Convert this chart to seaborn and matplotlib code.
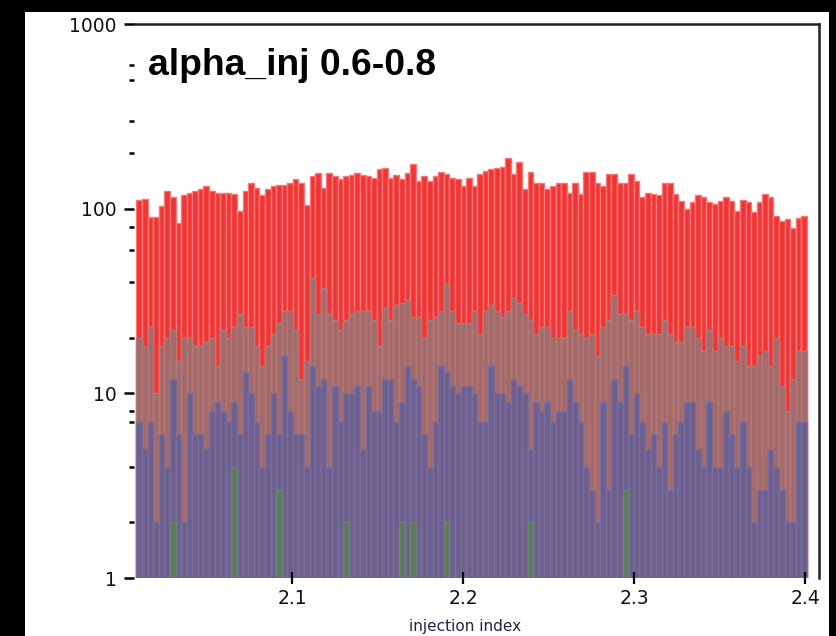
import numpy as np
import pandas as pd
import matplotlib
matplotlib.use("Agg")
import matplotlib.pyplot as plt
from matplotlib.patches import Rectangle
from matplotlib.ticker import FixedLocator, NullFormatter
import seaborn as sns

# ---------------- data (counts per injection-index bin) ----------------
x_min, x_max, n_bins = 2.009, 2.401, 120

red_counts = [112, 113, 90, 90, 104, 125, 115, 84, 118, 121, 125,
              128, 133, 125, 121, 121, 121, 120, 97, 125, 138,
              130, 118, 128, 133, 135, 135, 138, 145, 138, 105,
              150, 156, 130, 156, 150, 145, 150, 153, 156, 153,
              150, 147, 165, 167, 147, 153, 145, 156, 175,
              142, 151, 142, 151, 157, 155, 147, 145, 133, 147,
              133, 155, 160, 165, 167, 168, 189, 155, 178, 128,
              157, 138, 138, 128, 133, 138, 138, 122, 138, 120,
              157, 157, 138, 133, 155, 155, 138, 138, 155, 142,
              115, 122, 120, 118, 138, 138, 120, 110, 100, 108,
              118, 115, 108, 106, 110, 115, 110, 97, 112, 108,
              96, 108, 120, 115, 91, 86, 88, 79, 89, 91]

gray_counts = [20, 18, 23, 10, 18, 20, 22, 15, 20, 20, 18, 18, 19, 20, 14,
               22, 20, 23, 27, 23, 23, 18, 14, 18, 21, 24, 28, 28, 22,
               12,
               15, 42, 27, 37, 27, 25, 22, 25, 27, 28, 28, 28, 25, 18, 29,
               25, 30, 31, 32, 26, 26, 20, 25, 26, 28, 39, 28, 24, 24,
               24,
               28, 21, 28, 30, 28, 26, 28, 33, 31, 27, 25, 21, 23, 23, 20,
               20, 20, 28, 22, 21, 20, 21, 16, 23, 25, 34, 27, 27, 25,
               28,
               23, 21, 21, 21, 25, 21, 19, 19, 23, 23, 20, 17, 22, 17, 20,
               18, 18, 15, 18, 14, 14, 16, 17, 14, 20, 11, 8, 12, 17, 17]

blue_counts = [7, 5, 7, 2, 6, 4, 12, 6, 2, 10, 6, 6, 5, 8, 9,
               8, 7, 9, 6, 13, 10, 7, 4, 6, 10, 6, 16, 8, 6,
               6,
               4, 14, 11, 12, 4, 11, 7, 10, 10, 11, 5, 11, 8, 8, 12,
               12, 7, 9, 14, 12, 11, 6, 4, 7, 14, 13, 11, 10, 11,
               11,
               10, 7, 7, 14, 10, 10, 9, 12, 11, 10, 5, 9, 8, 9, 7,
               8, 8, 12, 9, 7, 4, 3, 2, 9, 3, 12, 9, 14, 6,
               10,
               7, 5, 6, 4, 7, 3, 6, 7, 9, 9, 5, 4, 9, 4, 4,
               8, 6, 4, 7, 4, 2, 3, 3, 5, 4, 3, 2, 2, 7, 7]

green_counts = [0, 0, 0, 0, 0, 0, 2, 0, 0, 0, 0, 0, 0, 0, 0,
                0, 0, 4, 0, 0, 0, 0, 0, 0, 0, 3, 0, 0, 0, 0,
                0, 0, 0, 0, 0, 0, 0, 2, 0, 0, 0, 0, 0, 0, 0,
                0, 0, 2, 0, 2, 0, 0, 0, 0, 0, 2, 0, 0, 0, 0,
                0, 0, 0, 0, 0, 0, 0, 0, 0, 0, 2, 0, 0, 0, 0,
                0, 0, 0, 0, 0, 0, 0, 0, 0, 0, 0, 0, 3, 0, 0,
                0, 0, 0, 0, 0, 0, 0, 0, 0, 0, 0, 0, 0, 0, 0,
                0, 0, 0, 0, 0, 0, 0, 0, 0, 0, 0, 0, 0, 0, 0]

x_ticks = [2.1, 2.2, 2.3, 2.4]
x_tick_labels = ["2.1", "2.2", "2.3", "2.4"]
y_ticks = [1, 10, 100, 1000]
y_tick_labels = ["1", "10", "100", "1000"]
y_minor = [2, 4, 7, 8, 20, 40, 60, 80, 200, 300, 500, 600]
title_text = "alpha_inj 0.6-0.8"
xlabel_text = "injection index"

# ---------------- figure ----------------
W, H = 837, 636
fig = plt.figure(figsize=(W / 100, H / 100), dpi=100, facecolor="black")
fig.patches.append(Rectangle((25 / W, 0), (829 - 25) / W, (636 - 12) / H,
                             transform=fig.transFigure, facecolor="white",
                             edgecolor="none", zorder=-10))

ax = fig.add_axes([134 / W, (H - 578) / H, (819 - 134) / W, (578 - 24) / H])
ax.set_zorder(5)
ax.set_facecolor("white")

edges = np.linspace(x_min, x_max, n_bins + 1)
centers = (edges[:-1] + edges[1:]) / 2
df = pd.DataFrame({"x": centers, "red": red_counts, "gray": gray_counts,
                   "blue": blue_counts, "green": green_counts})

layers = [("red", "#F13535", "#F57878"),
          ("gray", "#A46B6B", "#B57878"),
          ("blue", "#6C6090", "#7C6C9A"),
          ("green", "#5F7862", "#6C8470")]
for col, fc, ec in layers:
    sns.histplot(data=df, x="x", weights=col, bins=n_bins,
                 binrange=(x_min, x_max), ax=ax,
                 color=fc, edgecolor=ec, linewidth=1.0, alpha=1.0,
                 element="bars", fill=True)

ax.set_yscale("log")
ax.set_xlim(2.0076, 2.408)
ax.set_ylim(1, 1000)

ax.set_xticks(x_ticks)
ax.set_xticklabels(x_tick_labels)
ax.set_yticks(y_ticks)
ax.set_yticklabels(y_tick_labels)
ax.yaxis.set_minor_locator(FixedLocator(y_minor))
ax.yaxis.set_minor_formatter(NullFormatter())
ax.xaxis.set_minor_locator(FixedLocator([]))

ax.tick_params(axis="x", which="major", direction="inout", length=8, width=1.6,
               color="black", labelsize=13.5, pad=4, labelcolor="#111111")
ax.tick_params(axis="y", which="major", direction="out", length=7.5, width=1.8,
               color="black", labelsize=13.5, pad=5, labelcolor="#111111")
ax.tick_params(axis="y", which="minor", direction="out", length=3.5, width=1.8,
               color="black")

ax.set_xlabel("")
ax.set_ylabel("")
for s in ["left", "bottom"]:
    ax.spines[s].set_visible(False)
for s in ["top", "right"]:
    ax.spines[s].set_color("#222222")
    ax.spines[s].set_linewidth(1.8)

fig.text(148 / W, 1 - 75 / H, title_text, fontsize=26.8, fontweight="bold",
         family=["Liberation Sans", "DejaVu Sans"], ha="left", va="baseline",
         color="black", zorder=20)
fig.text(465 / W, 1 - 627 / H, xlabel_text, fontsize=11, ha="center",
         va="center", color="#222244", zorder=20)

fig.savefig("out.png", dpi=100, facecolor="black")
